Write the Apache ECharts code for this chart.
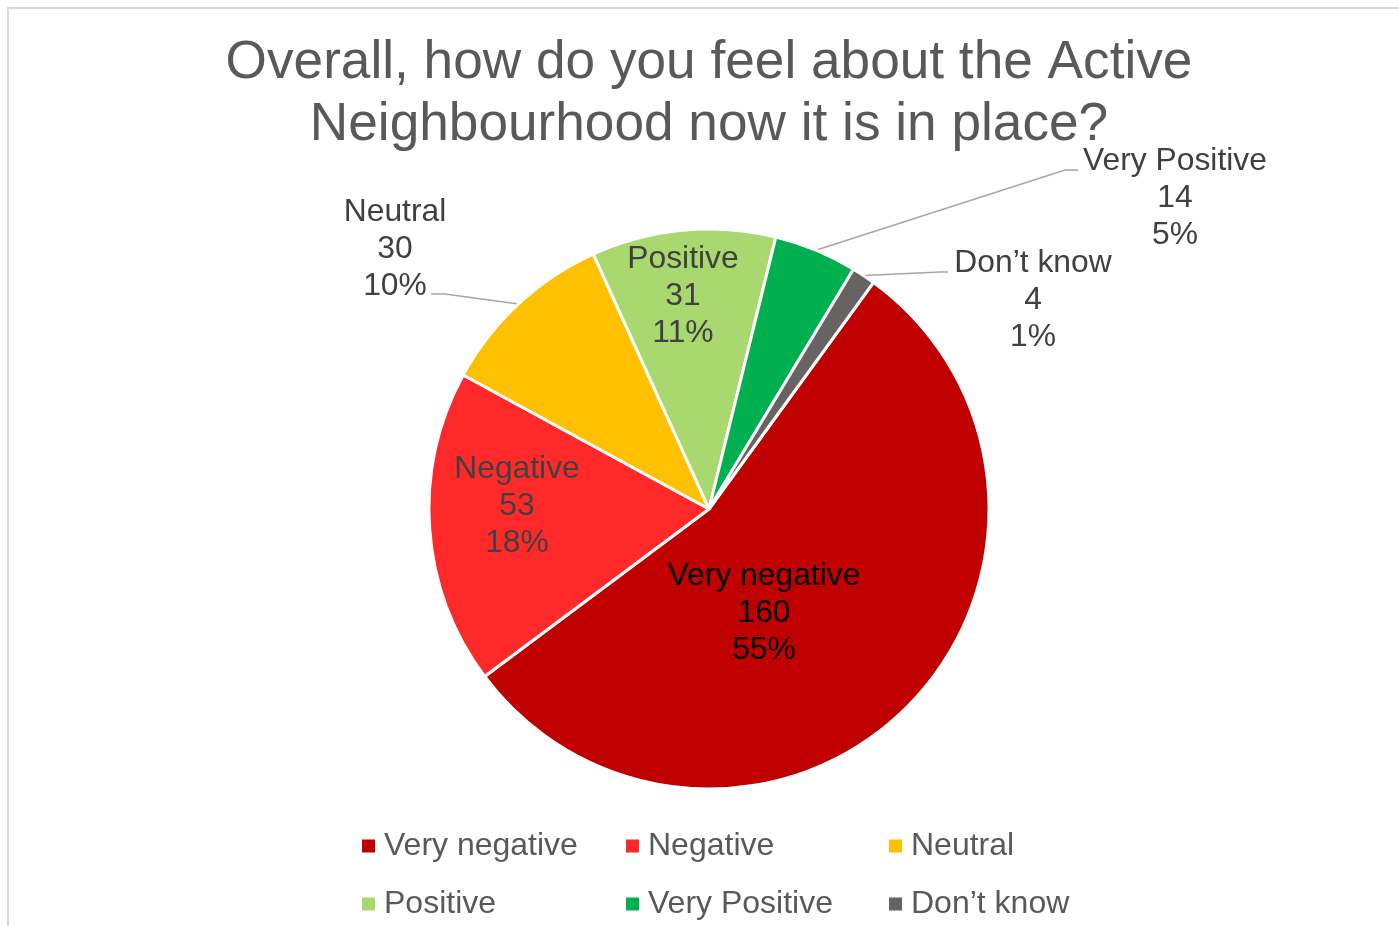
<!DOCTYPE html>
<html>
<head>
<meta charset="utf-8">
<script src="https://cdn.jsdelivr.net/npm/echarts@6/dist/echarts.min.js"></script>
<style>
html,body{margin:0;padding:0;background:#fff;}
#chart{width:1399px;height:926px;}
</style>
</head>
<body>
<div id="chart"></div>
<script>
// ---- data ----
const categories = ['Very negative', 'Negative', 'Neutral', 'Positive', 'Very Positive', 'Don\u2019t know'];
const counts = [160, 53, 30, 31, 14, 4];
const colors = ['#C00000', '#FF2929', '#FFC000', '#A9D86E', '#00B050', '#676363'];
const titleText = 'Overall, how do you feel about the Active\nNeighbourhood now it is in place?';

// ---- label placement (layout only) ----
const labelInside = [true, true, false, true, false, false];
const labelTextColor = ['#000000', '#404040', '#404040', '#404040', '#404040', '#404040'];
const labelPos = [[764, 613], [517, 506], [395, 249], [683, 296], [1175, 198], [1033, 300]];
const labelLineTail = [null, null, [[445, 294], [431, 294]], null, [[1065, 170], [1078, 170]], [[940, 272], [948, 272]]];
const legendPos = [[360, 830], [624, 830], [887, 830], [360, 888], [624, 888], [887, 888]];

const FONT = '"Liberation Sans", Arial, sans-serif';

const chart = echarts.init(document.getElementById('chart'));

const seriesData = categories.map((name, i) => ({
  name: name,
  value: counts[i],
  itemStyle: { color: colors[i] },
  label: {
    position: labelInside[i] ? 'inside' : 'outside',
    color: labelTextColor[i]
  },
  labelLine: { show: !labelInside[i] }
}));

const legends = categories.map((name, i) => ({
  data: [name],
  left: legendPos[i][0],
  top: legendPos[i][1],
  padding: 0,
  icon: 'rect',
  itemWidth: 15,
  itemHeight: 15,
  selectedMode: false,
  textStyle: {
    fontFamily: FONT,
    fontSize: 32,
    color: '#595959',
    padding: [0, 0, 0, 3]
  }
}));

chart.setOption({
  animation: false,
  title: {
    text: titleText,
    left: 709,
    top: 32,
    textAlign: 'center',
    padding: 0,
    textStyle: {
      fontFamily: FONT,
      fontSize: 53.2,
      fontWeight: 'normal',
      color: '#595959',
      lineHeight: 62
    }
  },
  legend: legends,
  graphic: [{
    type: 'rect',
    silent: true,
    z: -10,
    shape: { x: 8, y: 8, width: 1600, height: 1600 },
    style: { fill: 'none', stroke: '#d9d9d9', lineWidth: 2 }
  }],
  series: [{
    type: 'pie',
    center: [709, 509],
    radius: 280,
    startAngle: 54,
    clockwise: true,
    avoidLabelOverlap: false,
    itemStyle: { borderColor: '#ffffff', borderWidth: 3 },
    label: {
      show: true,
      fontFamily: FONT,
      fontSize: 31.8,
      lineHeight: 37,
      align: 'center',
      formatter: function (p) {
        return p.name + '\n' + p.value + '\n' + Math.round(p.percent) + '%';
      }
    },
    labelLine: {
      lineStyle: { color: '#a6a6a6', width: 1.5 }
    },
    labelLayout: function (params) {
      const i = params.dataIndex;
      const out = {
        x: labelPos[i][0],
        y: labelPos[i][1],
        align: 'center',
        verticalAlign: 'middle'
      };
      if (labelLineTail[i] && params.labelLinePoints) {
        out.labelLinePoints = [params.labelLinePoints[0]].concat(labelLineTail[i]);
      }
      return out;
    },
    data: seriesData
  }]
});
</script>
</body>
</html>
